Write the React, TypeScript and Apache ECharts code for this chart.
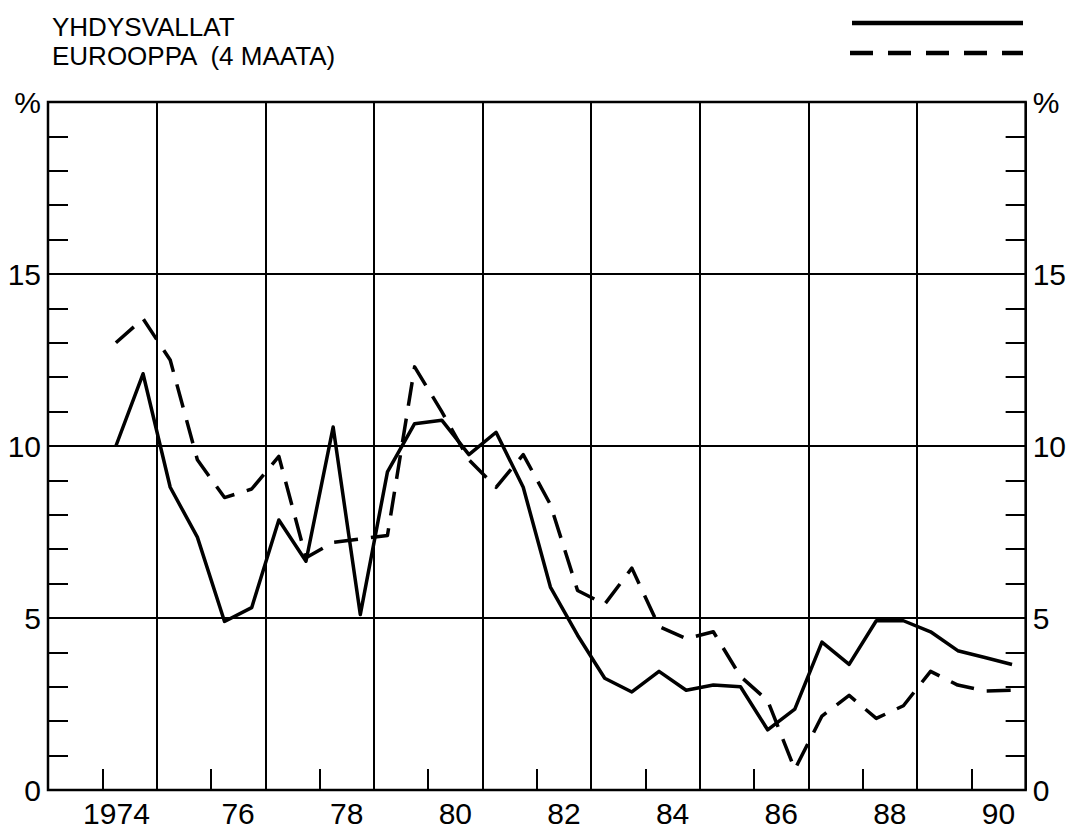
import React, { useEffect, useRef } from "react";
import * as echarts from "echarts";

// Years shown along the axis (band categories, 1973 is the empty left margin year)
const axisYears = [1973, 1974, 1975, 1976, 1977, 1978, 1979, 1980, 1981, 1982, 1983, 1984, 1985, 1986, 1987, 1988, 1989, 1990];
const tickLabels: Record<number, string> = {
  1974: "1974", 1976: "76", 1978: "78", 1980: "80", 1982: "82",
  1984: "84", 1986: "86", 1988: "88", 1990: "90",
};
// Data years; each year has two half-year observations
const dataYears = [1974, 1975, 1976, 1977, 1978, 1979, 1980, 1981, 1982, 1983, 1984, 1985, 1986, 1987, 1988, 1989, 1990];
const halfYearMid = [0.25, 0.75];

const usaLabel = "YHDYSVALLAT";
const europeLabel = "EUROOPPA  (4 MAATA)";

// YHDYSVALLAT (solid), half-year values, %
const usa = [
  10.0, 12.1, 8.8, 7.35, 4.9, 5.3, 7.85, 6.65, 10.55, 5.1, 9.25, 10.65,
  10.75, 9.75, 10.4, 8.8, 5.9, 4.5, 3.25, 2.85, 3.45, 2.9, 3.05, 3.0,
  1.75, 2.35, 4.3, 3.65, 4.92, 4.92, 4.6, 4.05, 3.85, 3.65,
];
// EUROOPPA (4 MAATA) (dashed), half-year values, %
const europe = [
  13.0, 13.7, 12.5, 9.6, 8.5, 8.75, 9.7, 6.75, 7.2, 7.3, 7.4, 12.3,
  11.0, 9.6, 8.8, 9.75, 8.3, 5.8, 5.4, 6.45, 4.75, 4.4, 4.6, 3.3,
  2.6, 0.6, 2.15, 2.75, 2.08, 2.45, 3.45, 3.05, 2.88, 2.9,
];

const FONT = "Liberation Sans";

function toPairs(values: number[]) {
  return values.map((v, i) => [dataYears[Math.floor(i / 2)] + halfYearMid[i % 2], v]);
}

export default function App() {
  const ref = useRef<HTMLDivElement>(null);
  useEffect(() => {
    if (!ref.current) return;
    const chart = echarts.init(ref.current, undefined, { renderer: "svg" });
    const yLabel = (v: number) => (v === 20 ? "%" : String(v));
    const option: any = {
      animation: false,
      backgroundColor: "#fff",
      grid: {
        left: 48, right: 39, top: 102, bottom: 39,
        show: true, borderColor: "#000", borderWidth: 2.5,
      },
      xAxis: [
        {
          type: "value", min: 1973, max: 1991, interval: 2,
          axisLine: { show: false }, axisTick: { show: false }, axisLabel: { show: false },
          splitLine: { show: true, lineStyle: { color: "#000", width: 2 } },
        },
        {
          type: "category", data: axisYears.map(String), boundaryGap: true, position: "bottom",
          axisLine: { show: false },
          axisTick: {
            show: true, inside: true, length: 21,
            lineStyle: { color: "#000", width: 2 },
            interval: (i: number) => axisYears[i] % 2 === 0,
          },
          axisLabel: {
            show: true, margin: 8, color: "#000", fontFamily: FONT, fontSize: 30,
            interval: (i: number) => axisYears[i] % 2 === 0,
            formatter: (v: string) => {
              const t = tickLabels[Number(v)] ?? "";
              return t.length === 4 ? `{wide|${t}}` : t;
            },
            rich: {
              wide: { fontFamily: FONT, fontSize: 30, color: "#000", padding: [0, 26, 0, 0] },
            },
          },
          splitLine: { show: false },
        },
      ],
      yAxis: [
        {
          type: "value", min: 0, max: 20, interval: 5, position: "left",
          axisLine: { show: false },
          axisTick: { show: true, inside: true, length: 20, lineStyle: { color: "#000", width: 2 } },
          minorTick: { show: true, splitNumber: 5, length: 20, lineStyle: { color: "#000", width: 2 } },
          axisLabel: { margin: 7, color: "#000", fontFamily: FONT, fontSize: 30, formatter: yLabel },
          splitLine: { show: true, lineStyle: { color: "#000", width: 2 } },
        },
        {
          type: "value", min: 0, max: 20, interval: 5, position: "right",
          axisLine: { show: false },
          axisTick: { show: true, inside: true, length: 20, lineStyle: { color: "#000", width: 2 } },
          minorTick: { show: true, splitNumber: 5, length: 20, lineStyle: { color: "#000", width: 2 } },
          axisLabel: { margin: 7, color: "#000", fontFamily: FONT, fontSize: 30, formatter: yLabel },
          splitLine: { show: false },
        },
      ],
      series: [
        {
          name: usaLabel, type: "line", xAxisIndex: 0, yAxisIndex: 0,
          data: toPairs(usa), symbol: "none",
          lineStyle: { color: "#000", width: 3.5, type: "solid", join: "round" },
          z: 5,
        },
        {
          name: europeLabel, type: "line", xAxisIndex: 0, yAxisIndex: 0,
          data: toPairs(europe), symbol: "none",
          lineStyle: { color: "#000", width: 3.5, type: [24, 13], join: "round" },
          z: 5,
        },
      ],
      graphic: [
        {
          type: "text", x: 52, y: 27,
          style: { text: usaLabel, fill: "#000", font: `26px "${FONT}"`, textVerticalAlign: "middle" },
        },
        {
          type: "text", x: 52, y: 56,
          style: { text: europeLabel, fill: "#000", font: `26px "${FONT}"`, textVerticalAlign: "middle" },
        },
        {
          type: "line", shape: { x1: 852, y1: 23, x2: 1023, y2: 23 },
          style: { stroke: "#000", lineWidth: 4.5 },
        },
        {
          type: "line", shape: { x1: 850, y1: 53, x2: 1023, y2: 53 },
          style: { stroke: "#000", lineWidth: 4.5, lineDash: [23, 15] },
        },
      ],
    };
    chart.setOption(option);
    return () => chart.dispose();
  }, []);
  return (
    <div
      ref={ref}
      style={{ position: "fixed", left: 0, top: 0, width: 1069, height: 829 }}
    />
  );
}
